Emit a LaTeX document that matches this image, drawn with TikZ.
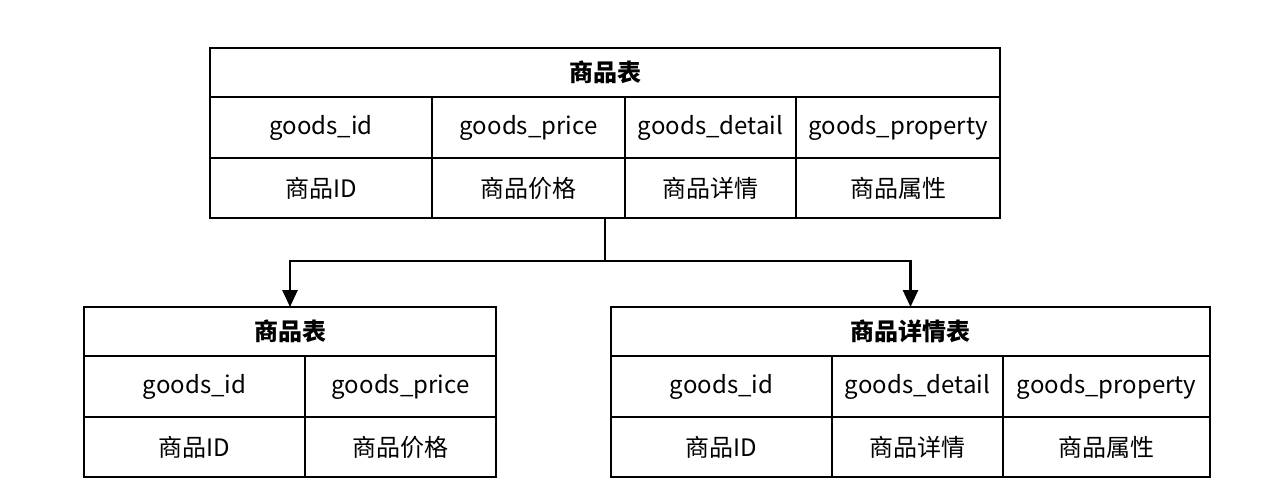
\documentclass[tikz,border=0pt]{standalone}
\usepackage{fontspec}
\setmainfont{Noto Sans CJK SC}
\usetikzlibrary{arrows.meta,positioning}

\tikzset{
  cell/.style={draw,line width=0.9pt,inner sep=0pt,outer sep=0pt,
    anchor=north west,font=\fontsize{12}{14}\selectfont},
  head/.style={cell,minimum height=24.5pt,font=\fontsize{12}{14}\selectfont\bfseries},
  key/.style={cell,minimum height=30.5pt},
  val/.style={cell,minimum height=30pt},
  wire/.style={line width=1.3pt},
  link/.style={wire,-{Triangle[length=8.5pt,width=7.5pt]}}
}

\begin{document}
\begin{tikzpicture}[x=0.5pt,y=-0.5pt]

  \useasboundingbox (0,0) rectangle (1266,500);

  % Whole table

  \node[head,minimum width=395pt] at (210,48) (t_title) {商品表};
  \node[key,minimum width=111pt,below=0 of t_title.south west,anchor=north west] (t_id) {goods\_id};
  \node[key,minimum width=96.5pt,right=0 of t_id] (t_price) {goods\_price};
  \node[key,minimum width=85.5pt,right=0 of t_price] (t_detail) {goods\_detail};
  \node[key,minimum width=102pt,right=0 of t_detail] (t_prop) {goods\_property};
  \node[val,minimum width=111pt,below=0 of t_id.south west,anchor=north west] (t_id_cn) {商品ID};
  \node[val,minimum width=96.5pt,right=0 of t_id_cn] (t_price_cn) {商品价格};
  \node[val,minimum width=85.5pt,right=0 of t_price_cn] (t_detail_cn) {商品详情};
  \node[val,minimum width=102pt,right=0 of t_detail_cn] (t_prop_cn) {商品属性};

  % Split tables

  \node[head,minimum width=206pt] at (84,307) (l_title) {商品表};
  \node[key,minimum width=110.5pt,below=0 of l_title.south west,anchor=north west] (l_id) {goods\_id};
  \node[key,minimum width=95.5pt,right=0 of l_id] (l_price) {goods\_price};
  \node[val,minimum width=110.5pt,below=0 of l_id.south west,anchor=north west] (l_id_cn) {商品ID};
  \node[val,minimum width=95.5pt,right=0 of l_id_cn] (l_price_cn) {商品价格};

  \node[head,minimum width=299.5pt] at (611,307) (r_title) {商品详情表};
  \node[key,minimum width=110.5pt,below=0 of r_title.south west,anchor=north west] (r_id) {goods\_id};
  \node[key,minimum width=85.5pt,right=0 of r_id] (r_detail) {goods\_detail};
  \node[key,minimum width=103.5pt,right=0 of r_detail] (r_prop) {goods\_property};
  \node[val,minimum width=110.5pt,below=0 of r_id.south west,anchor=north west] (r_id_cn) {商品ID};
  \node[val,minimum width=85.5pt,right=0 of r_id_cn] (r_detail_cn) {商品详情};
  \node[val,minimum width=103.5pt,right=0 of r_detail_cn] (r_prop_cn) {商品属性};

  % Edges

  \coordinate (fork) at (605,261);
  \draw[wire] (t_price_cn.south -| t_title.south) -- (fork);
  \draw[link] (fork) -| (l_title);
  \draw[link] (fork) -| (r_title);

\end{tikzpicture}
\end{document}
